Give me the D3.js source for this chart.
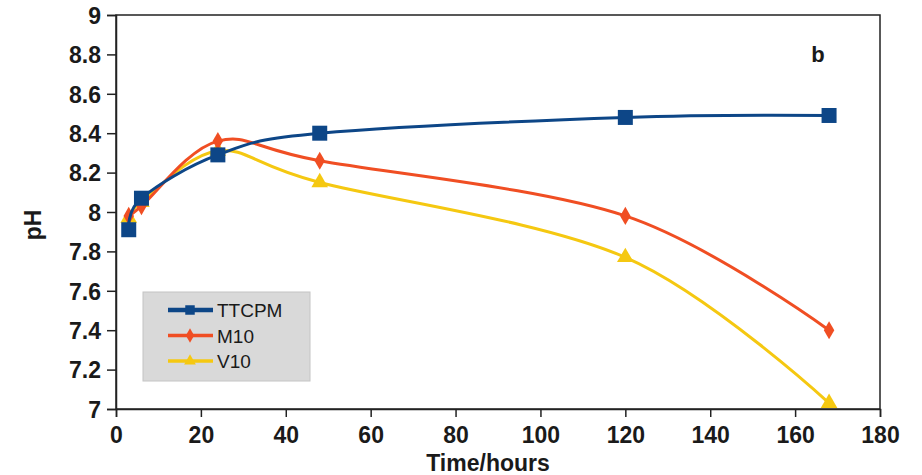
<!DOCTYPE html>
<html><head><meta charset="utf-8">
<script src="https://cdn.jsdelivr.net/npm/d3@7"></script>
<style>body{margin:0;background:#fff;}svg{display:block;font-family:"Liberation Sans",Arial,sans-serif;}</style>
</head><body>
<svg id="c" width="922" height="475"></svg>
<script>
const hours = [3, 6, 24, 48, 120, 168];
const ttcpm = [7.91, 8.07, 8.29, 8.40, 8.48, 8.49];
const m10   = [7.98, 8.03, 8.36, 8.26, 7.98, 7.40];
const v10   = [7.97, 8.05, 8.31, 8.15, 7.77, 7.03];
const seriesNames = ["TTCPM", "M10", "V10"];
const xTicks = [0,20,40,60,80,100,120,140,160,180];
const yTicks = [7,7.2,7.4,7.6,7.8,8,8.2,8.4,8.6,8.8,9];

const svg = d3.select("#c");
const L = 116, R = 880, T = 15, B = 409;
const x = d3.scaleLinear().domain([0,180]).range([L,R]);
const y = d3.scaleLinear().domain([7,9]).range([B,T]);

svg.append("rect").attr("x",L).attr("y",T).attr("width",R-L).attr("height",B-T)
  .attr("fill","#fff").attr("stroke","#222").attr("stroke-width",1.5);

const fmtY = d => String(+d.toFixed(1));
const ax = svg.append("g").attr("transform",`translate(0,${B})`)
  .call(d3.axisBottom(x).tickValues(xTicks).tickSize(8).tickPadding(10).tickFormat(d3.format("d")));
const ay = svg.append("g").attr("transform",`translate(${L},0)`)
  .call(d3.axisLeft(y).tickValues(yTicks).tickSize(9).tickPadding(6).tickFormat(fmtY));
[ax,ay].forEach(g=>{
  g.select(".domain").attr("stroke","#222").attr("stroke-width",1.5);
  g.selectAll(".tick line").attr("stroke","#222").attr("stroke-width",1.5);
  g.selectAll("text").attr("fill","#1a1a1a").attr("font-size",23).attr("font-weight","bold")
   .attr("font-family","'Liberation Sans',Arial,sans-serif");
});
ay.selectAll("text").attr("dy","0.36em");

svg.append("text").attr("x",488).attr("y",471).attr("text-anchor","middle")
  .attr("font-size",23).attr("font-weight","bold").attr("fill","#1a1a1a").text("Time/hours");
svg.append("text").attr("transform",`translate(41,225) rotate(-90)`).attr("text-anchor","middle")
  .attr("font-size",23).attr("font-weight","bold").attr("fill","#1a1a1a").text("pH");
svg.append("text").attr("x",818).attr("y",62).attr("text-anchor","middle")
  .attr("font-size",22).attr("font-weight","bold").attr("fill","#1a1a1a").text("b");

const colors = {TTCPM:"#0d4687", M10:"#f04e23", V10:"#f5c811"};
const data = {TTCPM:ttcpm, M10:m10, V10:v10};
const symbols = {TTCPM:d3.symbolSquare, M10:d3.symbolDiamond, V10:d3.symbolTriangle};
const sizes = {TTCPM:225, M10:95, V10:120};

const line = d3.line().x((d,i)=>x(hours[i])).y(d=>y(d)).curve(d3.curveCardinal.tension(0));

["V10","M10","TTCPM"].forEach(name=>{
  const g = svg.append("g");
  g.append("path").datum(data[name]).attr("d",line).attr("fill","none")
    .attr("stroke",colors[name]).attr("stroke-width",3);
  g.selectAll("path.m").data(data[name]).join("path").attr("class","m")
    .attr("transform",(d,i)=>`translate(${x(hours[i])},${y(d)})`)
    .attr("d",d3.symbol().type(symbols[name]).size(sizes[name]))
    .attr("fill",colors[name]);
});

// legend
const lg = svg.append("g");
lg.append("rect").attr("x",143).attr("y",292).attr("width",167).attr("height",89)
  .attr("fill","#d9d9d9").attr("stroke","#c4c4c4").attr("stroke-width",1);
seriesNames.forEach((name,i)=>{
  const yy = 310 + i*25.5;
  lg.append("line").attr("x1",168).attr("x2",213).attr("y1",yy).attr("y2",yy)
    .attr("stroke",colors[name]).attr("stroke-width",name==="TTCPM"?4.5:3.5);
  lg.append("path").attr("transform",`translate(190,${yy})`)
    .attr("d",d3.symbol().type(symbols[name]).size(name==="TTCPM"?90:60)).attr("fill",colors[name]);
  lg.append("text").attr("x",217).attr("y",yy+7).attr("font-size",19).attr("fill","#1a1a1a").text(name);
});
</script>
</body></html>
